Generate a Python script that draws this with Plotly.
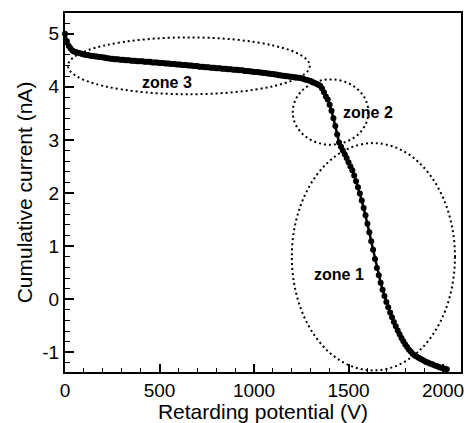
import plotly.graph_objects as go

# Retarding potential sweep (V), 10 V steps
potential = list(range(0, 2030, 10))

# Cumulative collected current (nA) at each potential step
current = [
    5.00, 4.86, 4.77, 4.72, 4.68, 4.66, 4.65, 4.64, 4.63, 4.62,
    4.61, 4.60, 4.60, 4.59, 4.58, 4.58, 4.57, 4.57, 4.56, 4.56,
    4.55, 4.55, 4.54, 4.54, 4.53, 4.53, 4.52, 4.52, 4.52, 4.51,
    4.51, 4.51, 4.50, 4.50, 4.50, 4.49, 4.49, 4.49, 4.48, 4.48,
    4.48, 4.48, 4.47, 4.47, 4.47, 4.47, 4.46, 4.46, 4.46, 4.46,
    4.45, 4.45, 4.45, 4.44, 4.44, 4.44, 4.43, 4.43, 4.43, 4.42,
    4.42, 4.42, 4.41, 4.41, 4.41, 4.40, 4.40, 4.40, 4.39, 4.39,
    4.39, 4.38, 4.38, 4.38, 4.37, 4.37, 4.37, 4.36, 4.36, 4.36,
    4.35, 4.35, 4.35, 4.34, 4.34, 4.34, 4.33, 4.33, 4.33, 4.32,
    4.32, 4.32, 4.31, 4.31, 4.31, 4.30, 4.30, 4.30, 4.29, 4.29,
    4.28, 4.28, 4.28, 4.27, 4.27, 4.26, 4.26, 4.25, 4.25, 4.24,
    4.24, 4.23, 4.23, 4.22, 4.22, 4.21, 4.21, 4.20, 4.20, 4.19,
    4.19, 4.18, 4.18, 4.17, 4.17, 4.16, 4.15, 4.14, 4.13, 4.12,
    4.11, 4.09, 4.07, 4.06, 4.04, 4.02, 3.97, 3.90, 3.82, 3.76,
    3.66, 3.55, 3.41, 3.26, 3.10, 2.95, 2.87, 2.80, 2.73, 2.66,
    2.58, 2.50, 2.43, 2.33, 2.22, 2.11, 1.99, 1.86, 1.72, 1.58,
    1.42, 1.26, 1.09, 0.93, 0.76, 0.59, 0.45, 0.31, 0.18, 0.06,
    -0.05, -0.15, -0.25, -0.34, -0.43, -0.51, -0.59, -0.66, -0.73, -0.79,
    -0.85, -0.90, -0.95, -0.99, -1.03, -1.06, -1.08, -1.10, -1.12, -1.14,
    -1.16, -1.18, -1.19, -1.21, -1.22, -1.24, -1.25, -1.26, -1.28, -1.29,
    -1.30, -1.31, -1.32,
]

# Axis tick values and their labels
x_ticks = [0, 500, 1000, 1500, 2000]
x_tick_labels = ["0", "500", "1000", "1500", "2000"]
y_ticks = [-1, 0, 1, 2, 3, 4, 5]
y_tick_labels = ["-1", "0", "1", "2", "3", "4", "5"]

# Zones of the curve: name, potential span (V), current span (nA), label anchor
zone_names = ["zone 3", "zone 2", "zone 1"]
zone_x_span = [(16, 1295), (1205, 1605), (1200, 2063)]
zone_y_span = [(3.86, 4.93), (2.91, 4.14), (-1.34, 2.94)]
zone_label_at = [(540, 4.08), (1605, 3.52), (1447, 0.46)]

FONT = "Liberation Sans, Arial, sans-serif"

fig = go.Figure()
fig.add_trace(go.Scatter(
    x=potential, y=current, mode="lines+markers",
    line=dict(color="black", width=2.5),
    marker=dict(color="black", size=6),
    cliponaxis=False, showlegend=False,
))

for name, (xa, xb), (ya, yb), (lx, ly) in zip(zone_names, zone_x_span, zone_y_span, zone_label_at):
    fig.add_shape(type="circle", xref="x", yref="y", x0=xa, x1=xb, y0=ya, y1=yb,
                  line=dict(color="black", width=2, dash="2px,3px"))
    fig.add_annotation(x=lx, y=ly, text=name, showarrow=False,
                       font=dict(family=FONT, size=16, color="black", weight="bold"))

axis_common = dict(
    showline=True, linecolor="black", linewidth=2, mirror=True,
    ticks="inside", tickcolor="black", tickwidth=2,
    showgrid=False, zeroline=False,
    tickfont=dict(family=FONT, size=19, color="black"),
    title_font=dict(family=FONT, size=21, color="black"),
)

fig.update_xaxes(
    **axis_common, range=[0, 2095], tickmode="array",
    tickvals=x_ticks, ticktext=x_tick_labels, ticklen=8,
    minor=dict(ticks="inside", tickmode="linear", tick0=0, dtick=100,
               ticklen=4, tickwidth=1, tickcolor="black"),
    title_text="Retarding potential (V)", title_standoff=5,
)
fig.update_yaxes(
    **axis_common, range=[-1.37, 5.39], tickmode="array",
    tickvals=y_ticks, ticktext=y_tick_labels, ticklen=9,
    minor=dict(ticks="inside", tickmode="linear", tick0=0, dtick=0.2,
               ticklen=5, tickwidth=1, tickcolor="black"),
    title_text="Cumulative current (nA)", title_standoff=4,
)

fig.update_layout(
    width=466, height=423,
    margin=dict(l=65, r=3, t=13, b=48),
    paper_bgcolor="white", plot_bgcolor="white",
)

fig.write_html("out.html")
